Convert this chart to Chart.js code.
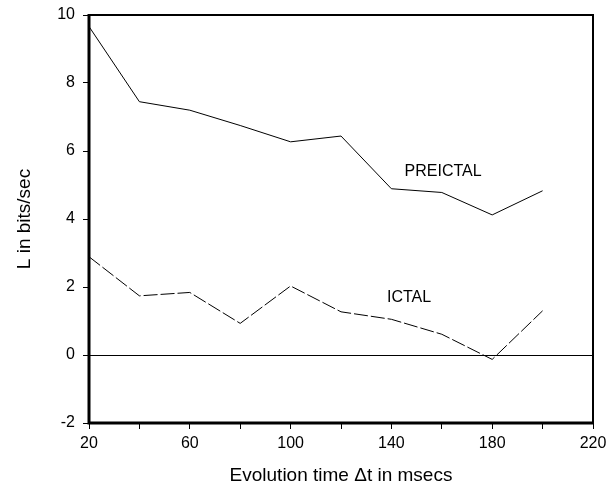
<!DOCTYPE html>
<html>
<head>
<meta charset="utf-8">
<script src="https://cdn.jsdelivr.net/npm/chart.js@4/dist/chart.umd.min.js"></script>
<style>
  html, body { margin: 0; padding: 0; background: #fff; }
  #wrap { width: 615px; height: 491px; }
</style>
</head>
<body>
<div id="wrap"><canvas id="chart" width="615" height="491"></canvas></div>
<script>
// evolution time (msecs)
var times = [20, 40, 60, 80, 100, 120, 140, 160, 180, 200];
// L in bits/sec
var preictal = [9.66, 7.45, 7.2, 6.75, 6.27, 6.44, 4.89, 4.78, 4.12, 4.83];
var ictal = [2.89, 1.74, 1.84, 0.93, 2.03, 1.27, 1.05, 0.61, -0.13, 1.30];
var xLabelTicks = [20, 60, 100, 140, 180, 220];
// where the curve names sit, in data units
var labels = [
  { text: 'PREICTAL', x: 160.5, y: 5.38 },
  { text: 'ICTAL', x: 147, y: 1.68 }
];

var font = '"Liberation Sans", Arial, sans-serif';

function pts(ys) {
  var out = [];
  for (var i = 0; i < times.length; i++) out.push({ x: times[i], y: ys[i] });
  return out;
}

var extras = {
  id: 'extras',
  afterDraw: function(chart) {
    var c = chart.ctx, a = chart.chartArea;
    var xs = chart.scales.x, ys = chart.scales.y;
    c.save();
    c.strokeStyle = '#000';
    c.lineWidth = 2;
    c.strokeRect(a.left, a.top, a.right - a.left, a.bottom - a.top);
    // heavier left and bottom axis lines
    c.lineWidth = 3;
    c.beginPath();
    c.moveTo(a.left, a.top - 1);
    c.lineTo(a.left, a.bottom);
    c.lineTo(a.right + 1, a.bottom);
    c.stroke();
    c.fillStyle = '#000';
    c.font = '16px ' + font;
    c.textAlign = 'center';
    c.textBaseline = 'middle';
    labels.forEach(function(l) {
      c.fillText(l.text, xs.getPixelForValue(l.x), ys.getPixelForValue(l.y));
    });
    c.restore();
  }
};

new Chart(document.getElementById('chart').getContext('2d'), {
  type: 'line',
  data: {
    datasets: [{
      label: 'PREICTAL',
      data: pts(preictal),
      borderColor: '#000',
      borderWidth: 1,
      pointRadius: 0,
      tension: 0,
      fill: false
    }, {
      label: 'ICTAL',
      data: pts(ictal),
      borderColor: '#000',
      borderWidth: 1,
      borderDash: [14, 3],
      pointRadius: 0,
      tension: 0,
      fill: false
    }]
  },
  options: {
    responsive: false,
    animation: false,
    layout: { padding: { left: 0, right: 22, top: 15, bottom: 0 } },
    plugins: { legend: { display: false }, tooltip: { enabled: false } },
    scales: {
      x: {
        type: 'linear',
        min: 20, max: 220,
        afterBuildTicks: function(s) {
          var t = [];
          for (var v = 20; v <= 220; v += 20) t.push({ value: v });
          s.ticks = t;
        },
        afterFit: function(s) { s.height = 68; },
        border: { display: false },
        grid: { drawOnChartArea: false, drawTicks: true, tickLength: 6, tickColor: '#000', tickWidth: 1 },
        ticks: {
          color: '#000',
          font: { family: font, size: 16 },
          padding: 5,
          maxRotation: 0,
          autoSkip: false,
          callback: function(v) { return xLabelTicks.indexOf(v) >= 0 ? String(v) : ''; }
        },
        title: {
          display: true,
          text: 'Evolution time \u0394t in msecs',
          color: '#000',
          font: { family: font, size: 19 },
          padding: { top: 14 }
        }
      },
      y: {
        min: -2, max: 10,
        afterFit: function(s) { s.width = 89; s.paddingTop = 0; s.paddingBottom = 0; },
        border: { display: false },
        grid: {
          color: function(ctx) { return ctx.tick && ctx.tick.value === 0 ? '#000' : 'rgba(0,0,0,0)'; },
          lineWidth: 1,
          drawTicks: true,
          tickLength: 6,
          tickColor: '#000'
        },
        ticks: {
          stepSize: 2,
          color: '#000',
          font: { family: font, size: 16 },
          padding: 8
        },
        title: {
          display: true,
          text: 'L in bits/sec',
          color: '#000',
          font: { family: font, size: 19 },
          padding: { top: 13, bottom: 0 }
        }
      }
    }
  },
  plugins: [extras]
});
</script>
</body>
</html>
